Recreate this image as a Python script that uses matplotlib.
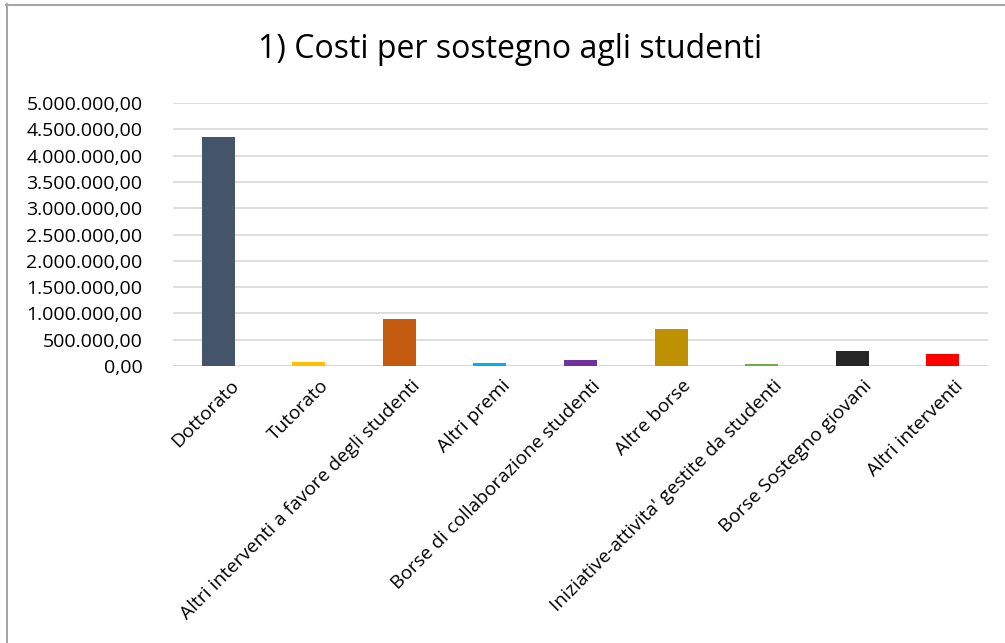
import matplotlib
matplotlib.use('Agg')
import matplotlib.pyplot as plt
from matplotlib.lines import Line2D
from matplotlib.ticker import FuncFormatter

# dati
categorie = ['Dottorato', 'Tutorato', 'Altri interventi a favore degli studenti',
             'Altri premi', 'Borse di collaborazione studenti', 'Altre borse',
             "Iniziative-attivita' gestite da studenti", 'Borse Sostegno giovani',
             'Altri interventi']
valori = [4350000, 77000, 885000, 58000, 115000, 711000, 38000, 288000, 231000]
colori = ['#44546A', '#FFC000', '#C55A11', '#00B0F0', '#7030A0',
          '#BF9000', '#70AD47', '#262626', '#FF0000']
tick_y = [0, 500000, 1000000, 1500000, 2000000, 2500000,
          3000000, 3500000, 4000000, 4500000, 5000000]

plt.rcParams['font.family'] = ['Open Sans', 'DejaVu Sans']

W, H = 1005, 643
fig = plt.figure(figsize=(W / 100, H / 100), dpi=100)
ax = fig.add_axes([173 / W, 1 - 366 / H, (988 - 173) / W, (366 - 103) / H])

x = range(len(categorie))
ax.bar(x, valori, width=0.365, color=colori, zorder=3)

ax.set_xlim(-0.5, len(categorie) - 0.5)
ax.set_ylim(0, 5000000)
ax.set_yticks(tick_y)


def fmt(v, pos):
    s = f'{v:,.2f}'
    return s.replace(',', 'X').replace('.', ',').replace('X', '.')


ax.yaxis.set_major_formatter(FuncFormatter(fmt))
ax.yaxis.grid(True, color='#D9D9D9', linewidth=1.2, zorder=0)
for s in ax.spines.values():
    s.set_visible(False)
ax.axhline(0, color='#D9D9D9', linewidth=1.5, zorder=2)
ax.tick_params(axis='y', length=0, labelsize=14, pad=22, labelcolor='#000000')
ax.tick_params(axis='x', length=0)

ax.set_xticks(list(x))
ax.set_xticklabels(categorie, rotation=45, ha='right', va='top',
                   rotation_mode='anchor', fontsize=13.8)
for lab in ax.get_xticklabels():
    lab.set_transform(lab.get_transform() +
                      matplotlib.transforms.ScaledTranslation(11 / 100, -6 / 100, fig.dpi_scale_trans))

fig.text(510 / W, 1 - 50 / H, '1) Costi per sostegno agli studenti',
         ha='center', va='center', fontsize=23)

# bordo del riquadro del grafico
fig.add_artist(Line2D([6.5 / W, 6.5 / W], [0, 1 - 4 / H], color='#A6A6A6', lw=1.5,
                      transform=fig.transFigure))
fig.add_artist(Line2D([6 / W, 1], [1 - 4.5 / H, 1 - 4.5 / H], color='#A6A6A6', lw=1.5,
                      transform=fig.transFigure))

fig.savefig('out.png', dpi=100)
